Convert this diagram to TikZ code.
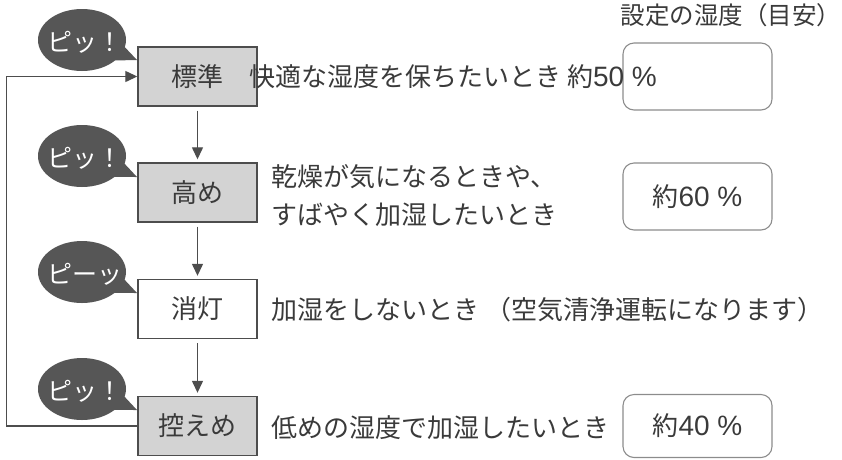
\documentclass[tikz,border=0pt]{standalone}
\usepackage{fontspec}
\setmainfont{Noto Sans CJK JP}
\newfontfamily\numfont{Liberation Sans}
\newcommand{\numtxt}[1]{{\numfont\fontsize{28}{30}\selectfont #1}}
\usetikzlibrary{arrows.meta,shapes.geometric,shapes.callouts}
\definecolor{txtcol}{HTML}{3A3A3A}
\definecolor{boxgray}{HTML}{D3D3D3}
\definecolor{bordergray}{HTML}{4D4D4D}
\definecolor{bubblegray}{HTML}{565656}
\definecolor{valborder}{HTML}{8C8C8C}
\begin{document}
\begin{tikzpicture}[x=1pt,y=-1pt,
  jp/.style={font=\fontsize{26}{38}\selectfont, text=txtcol, inner sep=0pt},
  modebox/.style={jp, draw=bordergray, line width=1.4pt, minimum width=119pt, minimum height=59pt},
  valbox/.style={jp, draw=valborder, line width=1.1pt, rounded corners=11pt, minimum width=149pt},
  bubble/.style={ellipse callout, fill=bubblegray, minimum width=88pt, minimum height=62pt, inner sep=0pt, callout pointer arc=28},
  bubtxt/.style={font=\fontsize{25}{30}\selectfont, text=white, inner sep=0pt, anchor=west},
  conn/.style={draw=bordergray, line width=1.3pt},
  arr/.style={conn, -{Triangle[length=12pt,width=11pt]}}
]
\useasboundingbox (0,0) rectangle (842,459);

% right value boxes
\node[valbox, minimum height=67pt] (V1) at (697.5,76.5) {};
\node[valbox, minimum height=67pt] (V2) at (697.5,196.5) {約\numtxt{60 \%}};
\node[valbox, minimum height=63pt] (V3) at (697.5,426) {約\numtxt{40 \%}};
\node[jp, anchor=west, font=\fontsize{24.5}{30}\selectfont] (H) at (620.5,15) {設定の湿度（目安）};

% mode boxes
\node[modebox, fill=boxgray] (A) at (197.5,76.5) {標準};
\node[modebox, fill=boxgray] (B) at (197.5,192.5) {高め};
\node[modebox, fill=white] (C) at (197.5,309) {消灯};
\node[modebox, fill=boxgray] (D) at (197.5,426) {控えめ};

% pointer targets for bubbles
\coordinate (pA) at (137,60);
\coordinate (pB) at (137,177);
\coordinate (pC) at (137,293);
\coordinate (pD) at (137,410);

\node[bubble, callout absolute pointer=(pA)] (S1) at (82,40) {};
\node[bubble, callout absolute pointer=(pB)] (S2) at (82,156) {};
\node[bubble, callout absolute pointer=(pC)] (S3) at (82,272) {};
\node[bubble, callout absolute pointer=(pD)] (S4) at (82,389) {};
\node[bubtxt] (S1t) at (47,42) {ピッ！};
\node[bubtxt] (S2t) at (47,158) {ピッ！};
\node[bubtxt] (S3t) at (47,274) {ピーッ};
\node[bubtxt] (S4t) at (47,391) {ピッ！};

% descriptions
\node[jp, anchor=west] (tA) at (249,77) {快適な湿度を保ちたいとき 約\numtxt{50 \%}};
\node[jp, anchor=west, align=left] (tB) at (271,196) {乾燥が気になるときや、\\すばやく加湿したいとき};
\node[jp, anchor=west] (tC) at (271,310) {加湿をしないとき （空気清浄運転になります）};
\node[jp, anchor=west] (tD) at (271,428) {低めの湿度で加湿したいとき};

% connectors
\draw[arr, shorten <=4pt, shorten >=3pt] (A.south) -- (B.north);
\draw[arr, shorten <=4pt, shorten >=3pt] (B.south) -- (C.north);
\draw[arr, shorten <=4pt, shorten >=3pt] (C.south) -- (D.north);
\draw[arr] (D.west) -- ++(-131,0) |- (A.west);
\end{tikzpicture}
\end{document}
